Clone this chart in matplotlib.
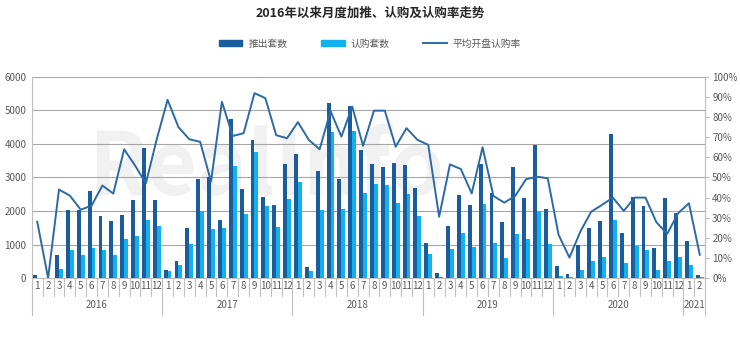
import matplotlib
matplotlib.use("Agg")
import matplotlib.pyplot as plt
import matplotlib.transforms as mtransforms
from matplotlib.ticker import FuncFormatter, MultipleLocator
from matplotlib.lines import Line2D
from matplotlib.patches import Patch
import numpy as np

plt.rcParams['font.family'] = ['Noto Sans CJK SC', 'DejaVu Sans']

# Monthly data, 2016-01 .. 2021-02
years = [2016, 2017, 2018, 2019, 2020, 2021]
months_per_year = [12, 12, 12, 12, 12, 2]

launched = [
    100, 0, 680, 2020, 2020, 2590, 1840, 1710, 1870, 2320, 3890, 2320,        # 2016
    230, 500, 1490, 2950, 3000, 1720, 4740, 2660, 4110, 2410, 2180, 3400,     # 2017
    3700, 320, 3190, 5230, 2950, 5130, 3830, 3400, 3320, 3420, 3370, 2700,    # 2018
    1060, 140, 1560, 2480, 2170, 3410, 2530, 1680, 3320, 2380, 3960, 2070,    # 2019
    350, 120, 975, 1500, 1710, 4290, 1350, 2410, 2160, 900, 2380, 1950,       # 2020
    1100, 90,                                                                  # 2021
]
subscribed = [
    10, 0, 280, 830, 680, 900, 830, 700, 1180, 1250, 1730, 1560,
    210, 380, 1020, 1990, 1460, 1490, 3350, 1900, 3760, 2160, 1520, 2370,
    2880, 220, 2040, 4360, 2070, 4390, 2530, 2820, 2780, 2230, 2500, 1850,
    710, 35, 880, 1340, 920, 2210, 1050, 610, 1310, 1160, 1990, 1020,
    70, 30, 230, 510, 630, 1730, 450, 950, 850, 250, 510, 630,
    400, 20,
]
rate = [
    0.28, 0.0, 0.44, 0.41, 0.34, 0.36, 0.46, 0.42, 0.64, 0.56, 0.47, 0.69,
    0.886, 0.75, 0.69, 0.677, 0.48, 0.876, 0.706, 0.72, 0.919, 0.894, 0.71, 0.695,
    0.775, 0.687, 0.64, 0.83, 0.703, 0.852, 0.657, 0.832, 0.832, 0.653, 0.745, 0.687,
    0.662, 0.305, 0.565, 0.542, 0.421, 0.65, 0.408, 0.375, 0.408, 0.491, 0.504, 0.496,
    0.215, 0.102, 0.231, 0.33, 0.364, 0.40, 0.334, 0.40, 0.40, 0.278, 0.22, 0.322,
    0.372, 0.116,
]

month_labels = []
for n in months_per_year:
    month_labels += [str(m) for m in range(1, n + 1)]

series_names = ['推出套数', '认购套数', '平均开盘认购率']
title = '2016年以来月度加推、认购及认购率走势'

c_dark = '#1A5C9C'
c_light = '#10B2EE'
c_line = '#2C6AA6'
c_grid = '#A6A6A6'
c_sep = '#BFBFBF'
c_text = '#595959'

fig = plt.figure(figsize=(7.4, 3.4), dpi=100)

# faint watermark behind the plot
fig.text(0.36, 0.5, 'RealInfo', fontsize=62, color='#F1F1F1',
         ha='center', va='center', fontweight='bold', zorder=-5)

ax = fig.add_axes([0.043, 0.182, 0.910, 0.592])
ax.patch.set_alpha(0)

x = np.arange(len(launched))
w = 0.36
ax.bar(x - w / 2, launched, width=w, color=c_dark, zorder=3)
ax.bar(x + w / 2, subscribed, width=w, color=c_light, zorder=3)

ax.set_xlim(-0.5, len(x) - 0.5)
ax.set_ylim(0, 6000)
ax.yaxis.set_major_locator(MultipleLocator(1000))
ax.grid(axis='y', color=c_grid, linewidth=0.8, zorder=0)
ax.tick_params(axis='y', length=0, labelsize=7, labelcolor=c_text, pad=4)
ax.set_xticks(x)
ax.set_xticklabels(month_labels)
ax.tick_params(axis='x', length=0, labelsize=7, labelcolor=c_text, pad=2)
ax.spines['top'].set_visible(False)
for s in ['left', 'bottom', 'right']:
    ax.spines[s].set_color(c_sep)
    ax.spines[s].set_linewidth(0.8)

# month and year separators under the axis
trans = mtransforms.blended_transform_factory(ax.transData, ax.transAxes)
year_starts = np.cumsum([0] + months_per_year)
for i in range(len(x) + 1):
    b = i - 0.5
    depth = -0.185 if i in year_starts else -0.09
    ax.add_line(Line2D([b, b], [0, depth], transform=trans, color=c_sep,
                       linewidth=0.8, clip_on=False))
for k, yr in enumerate(years):
    center = (year_starts[k] + year_starts[k + 1] - 1) / 2
    ax.text(center, -0.135, str(yr), transform=trans, ha='center', va='center',
            fontsize=7, color=c_text)

ax2 = ax.twinx()
ax2.patch.set_alpha(0)
ax2.plot(x, rate, color=c_line, linewidth=1.4, zorder=4)
ax2.set_ylim(0, 1)
ax2.yaxis.set_major_locator(MultipleLocator(0.1))
ax2.yaxis.set_major_formatter(FuncFormatter(lambda v, p: f'{v * 100:.0f}%'))
ax2.tick_params(axis='y', length=3, color=c_sep, labelsize=7, labelcolor=c_text, pad=2)
ax2.spines['top'].set_visible(False)
ax2.spines['left'].set_visible(False)
ax2.spines['bottom'].set_visible(False)
ax2.spines['right'].set_color(c_sep)
ax2.spines['right'].set_linewidth(0.8)

fig.text(0.5, 0.962, title, ha='center', va='center', fontsize=9,
         fontweight='bold', color='#262626')

handles = [Patch(color=c_dark), Patch(color=c_light),
           Line2D([0], [0], color=c_line, linewidth=1.4)]
fig.legend(handles, series_names, loc='center', bbox_to_anchor=(0.5, 0.872),
           ncol=3, frameon=False, fontsize=7, handlelength=2.4, handleheight=0.5,
           columnspacing=3.5, handletextpad=0.6, labelcolor=c_text)

fig.savefig('out.png', dpi=100)
